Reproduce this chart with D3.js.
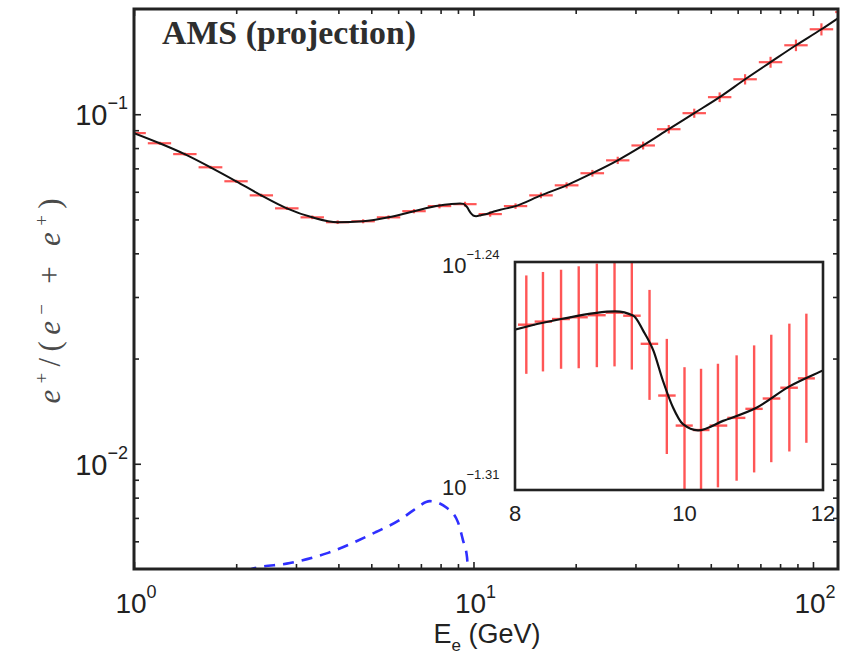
<!DOCTYPE html>
<html><head><meta charset="utf-8">
<script src="https://cdn.jsdelivr.net/npm/d3@7"></script>
<style>body{margin:0;background:#fff}</style>
</head><body>
<svg id="c" width="843" height="654"></svg>
<script>
// ---------------- data ----------------
// binned projected positron fraction (main panel)
const binE = [1.00,1.19,1.41,1.68,2.00,2.37,2.82,3.35,3.98,4.73,5.62,6.68,7.94,9.44,11.2,13.3,15.8,18.8,22.4,26.6,31.6,37.6,44.7,53.1,63.1,75.0,89.1,105.9,125.9];
const binRatio = [0.0883,0.0826,0.0769,0.0705,0.0643,0.0586,0.0538,0.0507,0.0491,0.0494,0.0507,0.0528,0.0546,0.0553,0.0518,0.0546,0.0586,0.0626,0.0678,0.0738,0.0814,0.0906,0.1007,0.1119,0.1259,0.1409,0.1575,0.1750,0.1960];
const binRelErr = [0.010,0.010,0.010,0.010,0.010,0.011,0.011,0.012,0.012,0.013,0.013,0.014,0.015,0.016,0.017,0.018,0.019,0.020,0.022,0.024,0.026,0.028,0.030,0.032,0.034,0.036,0.038,0.040,0.042];

// model curve (black line)
const modelE = [1.00,1.19,1.41,1.68,2.00,2.37,2.82,3.35,3.98,4.73,5.62,6.68,7.94,8.50,9.13,9.35,9.47,9.60,9.72,9.85,9.98,10.18,10.52,11.00,11.48,12.00,13.3,15.8,18.8,22.4,26.6,31.6,37.6,44.7,53.1,63.1,75.0,89.1,105.9,125.9];
const modelV = [0.0883,0.0826,0.0769,0.0705,0.0643,0.0586,0.0538,0.0507,0.0491,0.0494,0.0507,0.0528,0.0548,0.05527,0.05557,0.0554,0.05482,0.05404,0.05291,0.05192,0.05131,0.05109,0.05143,0.05192,0.0527,0.0533,0.0546,0.0586,0.0626,0.0678,0.0738,0.0814,0.0906,0.1007,0.1119,0.1259,0.1409,0.1575,0.1750,0.1960];

// dark-matter-like bump (blue dashed)
const bumpE = [2.00,2.22,2.88,3.73,5.16,6.07,6.68,7.44,8.36,9.00,9.31,9.57,9.65];
const bumpV = [0.0044,0.0050,0.0052,0.00556,0.00638,0.00691,0.00738,0.00782,0.00747,0.00681,0.00605,0.00541,0.0046];

// inset: fine bins with error bars
const insetE  = [8.12,8.30,8.50,8.70,8.91,9.12,9.33,9.55,9.77,10.00,10.22,10.45,10.71,10.96,11.21,11.48,11.74];
const insetV  = [0.05505,0.05517,0.05527,0.05534,0.05542,0.05552,0.05540,0.05431,0.05236,0.05126,0.05110,0.05126,0.05154,0.05187,0.05225,0.05265,0.05300];
const insetHi = [0.05700,0.05714,0.05723,0.05737,0.05748,0.05759,0.05754,0.05642,0.05450,0.05342,0.05336,0.05355,0.05387,0.05425,0.05466,0.05509,0.05548];
const insetLo = [0.05317,0.05326,0.05336,0.05338,0.05342,0.05345,0.05333,0.05220,0.05024,0.04895,0.04893,0.04907,0.04930,0.04959,0.04995,0.05033,0.05064];

// tick labels
const xMajor = [1,10,100];
const xMajorLabels = [["10","0"],["10","1"],["10","2"]];
const yMajor = [0.01,0.1];
const yMajorLabels = [["10","\u22122"],["10","\u22121"]];
const insetXTicks = [8,10,12];
const insetYLabels = [["10","\u22121.24"],["10","\u22121.31"]];
const titleText = "AMS (projection)";

// ---------------- drawing ----------------
const svg = d3.select("#c");
const L=134,R=838,T=9,B=569;
const x = d3.scaleLog().domain([1,118.5]).range([L,R]);
const y = d3.scaleLog().domain([0.005,0.2]).range([B,T]);

const ink="#222";
const red="#ff3838";

svg.append("defs").append("clipPath").attr("id","mainClip")
  .append("rect").attr("x",L).attr("y",T).attr("width",R-L).attr("height",B-T);

const xMinor=[], yMinor=[];
[1,10,100].forEach(d=>{for(let k=2;k<=9;k++){const v=d*k; if(v<118.5) xMinor.push(v);}});
[0.001,0.01,0.1].forEach(d=>{for(let k=2;k<=9;k++){const v=d*k; if(v>0.005&&v<0.2) yMinor.push(v);}});

function tickAxis(axisFn, scale, vals, size, tr){
  const g=svg.append("g").attr("transform",tr)
    .call(axisFn(scale).tickValues(vals).tickSize(size).tickFormat(""));
  g.select(".domain").remove();
  g.selectAll("line").attr("stroke",ink).attr("stroke-width",1.6);
}
// inward ticks, all four sides
tickAxis(d3.axisBottom,x,xMajor,-7,`translate(0,${B})`);
tickAxis(d3.axisBottom,x,xMinor,-5,`translate(0,${B})`);
tickAxis(d3.axisTop,x,xMajor,-7,`translate(0,${T})`);
tickAxis(d3.axisTop,x,xMinor,-5,`translate(0,${T})`);
tickAxis(d3.axisLeft,y,yMajor,-7,`translate(${L},0)`);
tickAxis(d3.axisLeft,y,yMinor,-5,`translate(${L},0)`);
tickAxis(d3.axisRight,y,yMajor,-7,`translate(${R},0)`);
tickAxis(d3.axisRight,y,yMinor,-5,`translate(${R},0)`);

const plot = svg.append("g").attr("clip-path","url(#mainClip)");

// blue dashed
const lineBump = d3.line().x((d,i)=>x(bumpE[i])).y((d,i)=>y(bumpV[i])).curve(d3.curveMonotoneX);
plot.append("path").datum(bumpE).attr("d",lineBump)
  .attr("fill","none").attr("stroke","#2f2fff").attr("stroke-width",2.6)
  .attr("stroke-dasharray","11,8");

// red error bars (main)
const edges = binE.map((e,i)=>{
  const lo = i>0 ? Math.sqrt(e*binE[i-1]) : e*e/Math.sqrt(e*binE[i+1]);
  const hi = i<binE.length-1 ? Math.sqrt(e*binE[i+1]) : e*e/Math.sqrt(e*binE[i-1]);
  return [lo,hi];
});
const eb = plot.append("g").attr("stroke",red).attr("stroke-width",2.2).attr("stroke-opacity",0.85);
binE.forEach((e,i)=>{
  const v=binRatio[i];
  eb.append("line").attr("x1",x(edges[i][0])+1).attr("x2",x(edges[i][1])-1)
    .attr("y1",y(v)).attr("y2",y(v));
  eb.append("line").attr("x1",x(e)).attr("x2",x(e))
    .attr("y1",y(v*(1+binRelErr[i]))).attr("y2",y(v*(1-binRelErr[i])));
});

// black model
const lineModel = d3.line().x((d,i)=>x(modelE[i])).y((d,i)=>y(modelV[i])).curve(d3.curveMonotoneX);
plot.append("path").datum(modelE).attr("d",lineModel)
  .attr("fill","none").attr("stroke","#111").attr("stroke-width",2);

// frame
svg.append("rect").attr("x",L).attr("y",T).attr("width",R-L).attr("height",B-T)
  .attr("fill","none").attr("stroke",ink).attr("stroke-width",3);

// title
svg.append("text").attr("x",162).attr("y",44).text(titleText)
  .attr("font-family","Liberation Serif").attr("font-weight","bold")
  .attr("font-size",33).attr("fill","#2e2e2e")
  .attr("textLength",254).attr("lengthAdjust","spacingAndGlyphs");

// tick labels helper
function supLabel(px,py,base,sup,size,supSize,anchor,rise){
  const t=svg.append("text").attr("x",px).attr("y",py)
    .attr("font-family","Liberation Sans").attr("font-size",size).attr("fill",ink)
    .attr("text-anchor",anchor);
  t.append("tspan").text(base);
  t.append("tspan").attr("dy",-rise).attr("font-size",supSize).text(sup);
  return t;
}
xMajor.forEach((v,i)=>supLabel(x(v)+2,613,xMajorLabels[i][0],xMajorLabels[i][1],28,18,"middle",15));
yMajor.forEach((v,i)=>supLabel(128,y(v)+11,yMajorLabels[i][0],yMajorLabels[i][1],29,18,"end",16));

// axis titles
const xl=svg.append("text").attr("x",487).attr("y",643).attr("text-anchor","middle")
  .attr("font-family","Liberation Sans").attr("font-size",27).attr("fill",ink);
xl.append("tspan").text("E");
xl.append("tspan").attr("dy",8).attr("font-size",17).text("e");
xl.append("tspan").attr("dy",-8).text(" (GeV)");

const yl=svg.append("text").attr("transform","translate(60,301) rotate(-90)")
  .attr("text-anchor","middle").attr("font-family","Liberation Serif")
  .attr("font-size",31).attr("fill","#4a4a4a")
  .attr("textLength",205).attr("lengthAdjust","spacing");
yl.append("tspan").attr("font-style","italic").text("e");
yl.append("tspan").attr("dy",-12).attr("font-size",19).text("+");
yl.append("tspan").attr("dy",12).text("/(");
yl.append("tspan").attr("font-style","italic").text("e");
yl.append("tspan").attr("dy",-12).attr("font-size",19).text("\u2212");
yl.append("tspan").attr("dy",12).text(" + ");
yl.append("tspan").attr("font-style","italic").text("e");
yl.append("tspan").attr("dy",-12).attr("font-size",19).text("+");
yl.append("tspan").attr("dy",12).text(")");

// ---------------- inset ----------------
const IL=515,IR=823,IT=262,IB=490;
const ix = d3.scaleLog().domain([8,12]).range([IL,IR]);
const iy = d3.scaleLog().domain([Math.pow(10,-1.31),Math.pow(10,-1.24)]).range([IB,IT]);
svg.append("rect").attr("x",IL).attr("y",IT).attr("width",IR-IL).attr("height",IB-IT).attr("fill","#fff");
svg.select("defs").append("clipPath").attr("id","insetClip")
  .append("rect").attr("x",IL).attr("y",IT).attr("width",IR-IL).attr("height",IB-IT);
const ip = svg.append("g").attr("clip-path","url(#insetClip)");
const ieb = ip.append("g").attr("stroke",red).attr("stroke-width",2.4).attr("stroke-opacity",0.85);
insetE.forEach((e,i)=>{
  ieb.append("line").attr("x1",ix(e)).attr("x2",ix(e)).attr("y1",iy(insetHi[i])).attr("y2",iy(insetLo[i]));
  const lo = i>0 ? Math.sqrt(e*insetE[i-1]) : e*e/Math.sqrt(e*insetE[i+1]);
  const hi = i<insetE.length-1 ? Math.sqrt(e*insetE[i+1]) : e*e/Math.sqrt(e*insetE[i-1]);
  ieb.append("line").attr("x1",ix(lo)).attr("x2",ix(hi)).attr("y1",iy(insetV[i])).attr("y2",iy(insetV[i]));
});
const lineInset = d3.line().x((d,i)=>ix(modelE[i])).y((d,i)=>iy(modelV[i])).curve(d3.curveMonotoneX);
ip.append("path").datum(modelE).attr("d",lineInset)
  .attr("fill","none").attr("stroke","#111").attr("stroke-width",2.2);
svg.append("rect").attr("x",IL).attr("y",IT).attr("width",IR-IL).attr("height",IB-IT)
  .attr("fill","none").attr("stroke",ink).attr("stroke-width",2.6);

insetXTicks.forEach(v=>{
  svg.append("text").attr("x",ix(v)).attr("y",521).attr("text-anchor","middle")
    .attr("font-family","Liberation Sans").attr("font-size",22).attr("fill",ink).text(v);
});
supLabel(442,273,insetYLabels[0][0],insetYLabels[0][1],22,13,"start",14);
supLabel(442,495,insetYLabels[1][0],insetYLabels[1][1],22,13,"start",16);
</script>
</body></html>
